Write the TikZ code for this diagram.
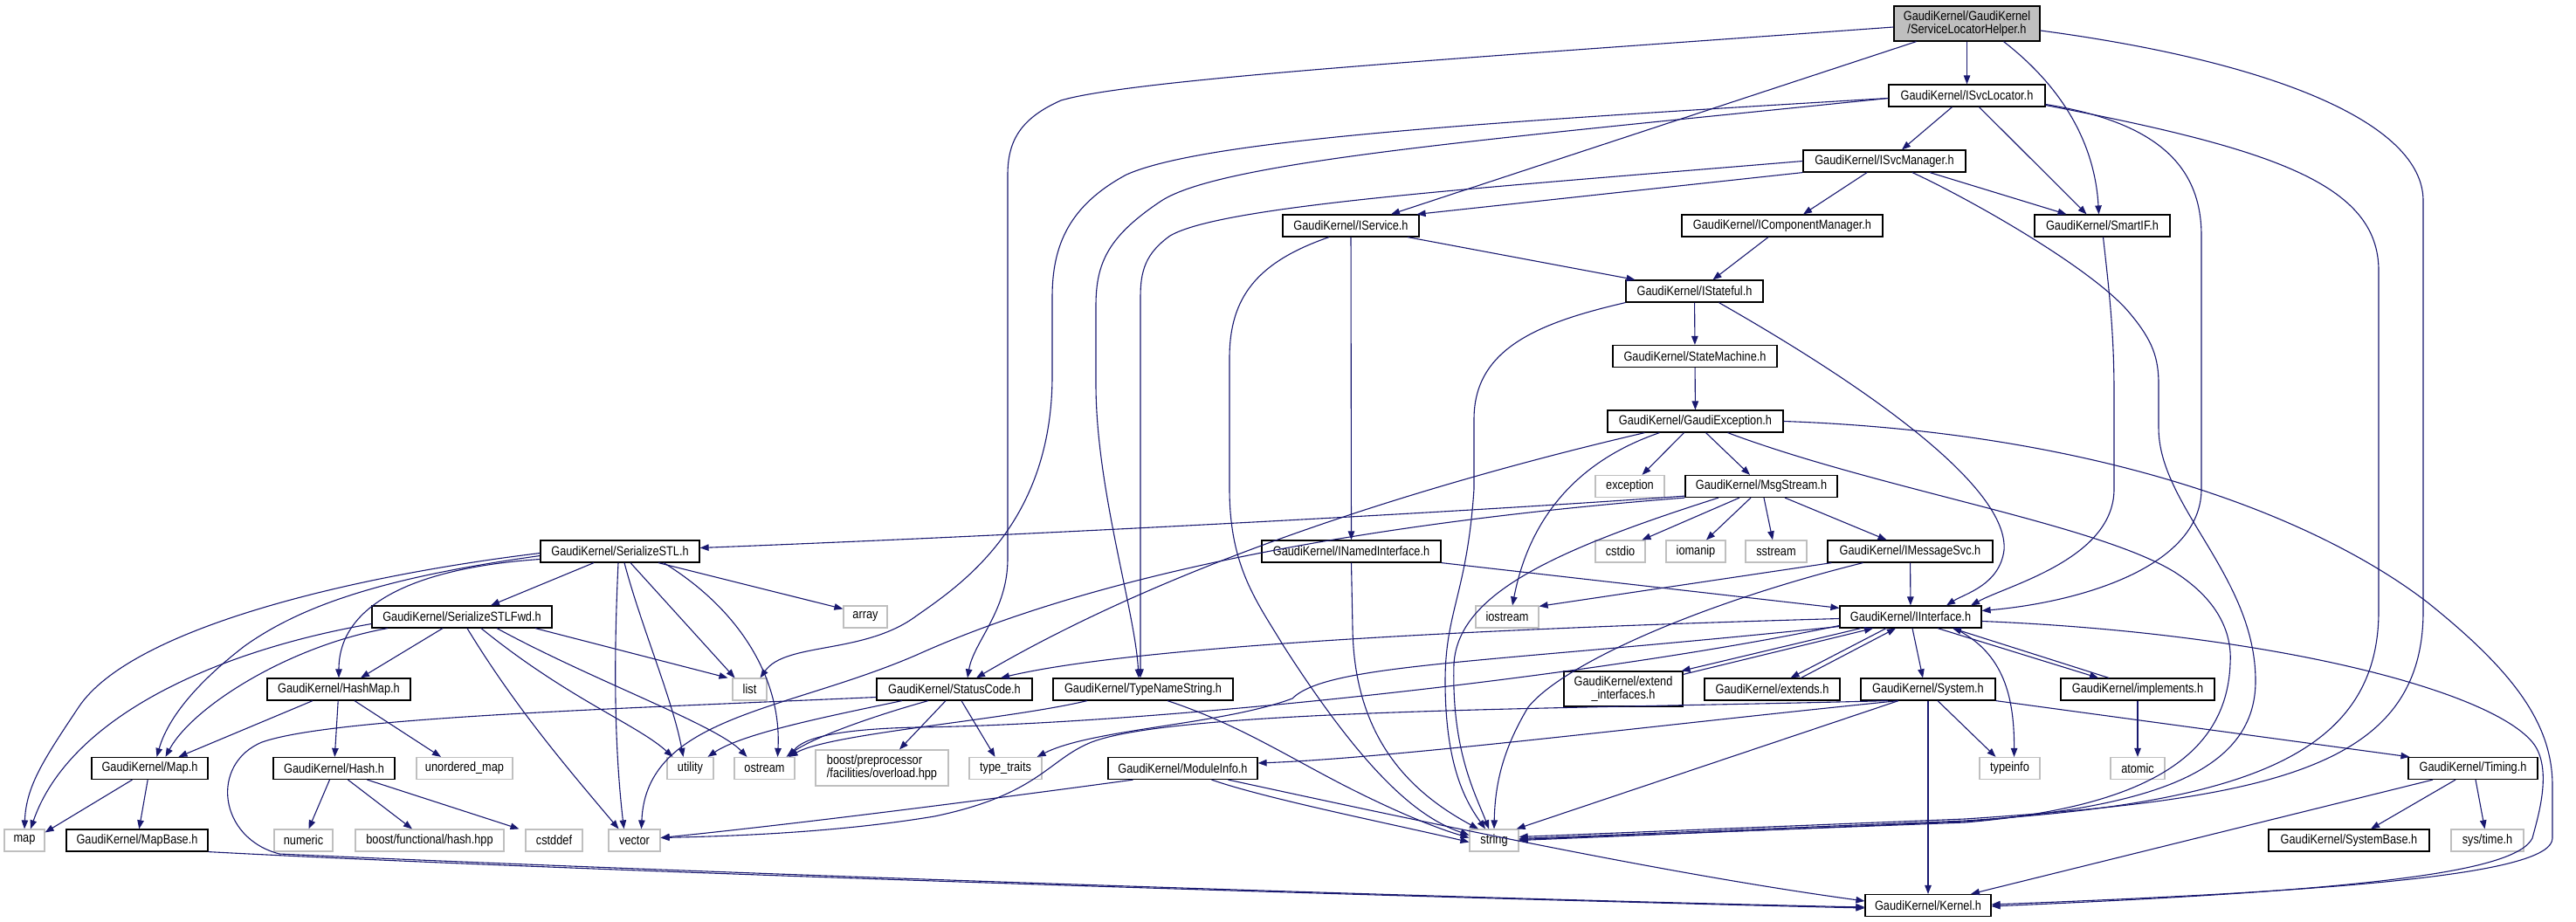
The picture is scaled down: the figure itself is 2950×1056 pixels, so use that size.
\documentclass[tikz,border=0pt]{standalone}
\usepackage{fontspec}
\setmainfont{Liberation Sans}[FakeStretch=0.85]
\usetikzlibrary{arrows.meta}
\definecolor{edgecol}{HTML}{191970}
\definecolor{sysgray}{HTML}{BFBFBF}
\definecolor{rootgray}{HTML}{BFBFBF}
\newcommand\gkfont{\fontsize{15pt}{15pt}\selectfont}
\begin{document}
\begin{tikzpicture}[x=1pt,y=-1pt,
  gk/.style={draw=black, line width=1.2pt, minimum height=25pt, inner sep=0pt, font=\gkfont},
  sy/.style={draw=sysgray, line width=1.2pt, minimum height=25pt, inner sep=0pt, font=\gkfont},
  edg/.style={draw=edgecol, line width=1.1pt, -{Triangle[length=10pt,width=7.5pt]}}]
\useasboundingbox (0,0) rectangle (2950,1056);
% ---------- nodes ----------
\node[gk, fill=rootgray, minimum width=167pt, minimum height=40pt, align=center] (root) at (2252.5,27) {GaudiKernel/GaudiKernel\\/ServiceLocatorHelper.h};
\node[gk, minimum width=179pt] (isvcloc) at (2252.5,109.5) {GaudiKernel/ISvcLocator.h};
\node[gk, minimum width=186pt] (isvcman) at (2158,184.5) {GaudiKernel/ISvcManager.h};
\node[gk, minimum width=155pt] (smartif) at (2407.5,258.5) {GaudiKernel/SmartIF.h};
\node[gk, minimum width=156pt] (iservice) at (1547,258.5) {GaudiKernel/IService.h};
\node[gk, minimum width=230pt] (icompman) at (2041,258.5) {GaudiKernel/IComponentManager.h};
\node[gk, minimum width=157pt] (istateful) at (1940.5,333.5) {GaudiKernel/IStateful.h};
\node[gk, minimum width=188pt] (statemachine) at (1941,408) {GaudiKernel/StateMachine.h};
\node[gk, minimum width=201pt] (gaudiexc) at (1941.5,482.5) {GaudiKernel/GaudiException.h};
\node[sy, minimum width=79pt] (exception) at (1866.5,557) {exception};
\node[gk, minimum width=174pt] (msgstream) at (2017,557) {GaudiKernel/MsgStream.h};
\node[gk, minimum width=182pt] (serializestl) at (710,631.5) {GaudiKernel/SerializeSTL.h};
\node[gk, minimum width=205pt] (inamed) at (1547.5,631.5) {GaudiKernel/INamedInterface.h};
\node[sy, minimum width=57pt] (cstdio) at (1855.5,631.5) {cstdio};
\node[sy, minimum width=68pt] (iomanip) at (1942,631.5) {iomanip};
\node[sy, minimum width=70pt] (sstream) at (2034,631.5) {sstream};
\node[gk, minimum width=189pt] (imessagesvc) at (2187.5,631.5) {GaudiKernel/IMessageSvc.h};
\node[gk, minimum width=206pt] (serializestlfwd) at (529,706.5) {GaudiKernel/SerializeSTLFwd.h};
\node[sy, minimum width=50pt] (array) at (991,706.5) {array};
\node[sy, minimum width=72pt] (iostream) at (1726,706.5) {iostream};
\node[gk, minimum width=162pt] (iinterface) at (2188,706.5) {GaudiKernel/IInterface.h};
\node[gk, minimum width=164pt] (hashmap) at (388,789.5) {GaudiKernel/HashMap.h};
\node[sy, minimum width=39pt] (list) at (858.5,789.5) {list};
\node[gk, minimum width=178pt] (statuscode) at (1093,789.5) {GaudiKernel/StatusCode.h};
\node[gk, minimum width=206pt] (typenamestring) at (1309,789.5) {GaudiKernel/TypeNameString.h};
\node[gk, minimum width=136pt, minimum height=40pt, align=center] (extendif) at (1859,789) {GaudiKernel/extend\\\_interfaces.h};
\node[gk, minimum width=155pt] (extends) at (2029.5,789.5) {GaudiKernel/extends.h};
\node[gk, minimum width=154pt] (system) at (2208,789.5) {GaudiKernel/System.h};
\node[gk, minimum width=176pt] (implements) at (2448,789.5) {GaudiKernel/implements.h};
\node[gk, minimum width=133pt] (maph) at (171.5,880) {GaudiKernel/Map.h};
\node[gk, minimum width=139pt] (hash) at (382.5,880) {GaudiKernel/Hash.h};
\node[sy, minimum width=110pt] (unorderedmap) at (532,880) {unordered\_map};
\node[sy, minimum width=53pt] (utility) at (790.5,880) {utility};
\node[sy, minimum width=69pt] (ostream) at (875.5,880) {ostream};
\node[sy, minimum width=152pt, minimum height=41pt, align=left] (boostpp) at (1010,879.5) {boost/preprocessor\\/facilities/overload.hpp};
\node[sy, minimum width=83pt] (typetraits) at (1151.5,880) {type\_traits};
\node[gk, minimum width=171pt] (moduleinfo) at (1354.5,880) {GaudiKernel/ModuleInfo.h};
\node[sy, minimum width=69pt] (typeinfo) at (2301.5,880) {typeinfo};
\node[sy, minimum width=62pt] (atomic) at (2448,880) {atomic};
\node[gk, minimum width=148pt] (timing) at (2832,880) {GaudiKernel/Timing.h};
\node[sy, minimum width=46pt] (map) at (28,962.5) {map};
\node[gk, minimum width=162pt] (mapbase) at (157,962.5) {GaudiKernel/MapBase.h};
\node[sy, minimum width=67pt] (numeric) at (347.5,962.5) {numeric};
\node[sy, minimum width=170pt] (boostfh) at (492,962.5) {boost/functional/hash.hpp};
\node[sy, minimum width=65pt] (cstddef) at (634.5,962.5) {cstddef};
\node[sy, minimum width=59pt] (vector) at (726.5,962.5) {vector};
\node[sy, minimum width=56pt] (string) at (1711,962.5) {string};
\node[gk, minimum width=184pt] (systembase) at (2690,962.5) {GaudiKernel/SystemBase.h};
\node[sy, minimum width=83pt] (systime) at (2848.5,962.5) {sys/time.h};
\node[gk, minimum width=144pt] (kernel) at (2208,1037) {GaudiKernel/Kernel.h};
% ---------- edges: root ----------
\draw[edg] (root) -- (isvcloc);
\draw[edg] ([xshift=42pt]root.south) .. controls (2375,110) and (2400,180) .. ([xshift=-4pt]smartif.north);
\draw[edg] ([xshift=-58pt]root.south) -- ([xshift=46pt]iservice.north);
\draw[edg] ([yshift=-4pt]root.west) .. controls (1700,65) and (1300,90) .. (1215,115) .. controls (1170,135) and (1154,160) .. (1154,200) -- (1154,640) .. controls (1154,700) and (1115,735) .. ([xshift=15pt]statuscode.north);
\draw[edg] ([yshift=-8pt]root.east) .. controls (2600,70) and (2775,140) .. (2775,230) -- (2775,700) .. controls (2775,880) and (2600,915) .. (2250,938) -- ([yshift=4pt]string.east);
% ---------- ISvcLocator ----------
\draw[edg] ([xshift=-17pt]isvcloc.south) -- ([xshift=20pt]isvcman.north);
\draw[edg] ([xshift=14pt]isvcloc.south) -- ([xshift=-18pt]smartif.north);
\draw[edg] ([yshift=-10pt]isvcloc.east) .. controls (2470,140) and (2521,190) .. (2521,270) -- (2521,560) .. controls (2521,650) and (2380,690) .. ([yshift=7pt]iinterface.east);
\draw[edg] ([yshift=-11pt]isvcloc.east) .. controls (2600,170) and (2724,210) .. (2724,310) -- (2724,700) .. controls (2724,870) and (2560,920) .. (2250,940) -- ([yshift=2pt]string.east);
\draw[edg] ([yshift=-3pt]isvcloc.west) .. controls (1700,140) and (1380,160) .. (1290,200) .. controls (1225,235) and (1205,280) .. (1205,340) -- (1205,430) .. controls (1205,600) and (1100,670) .. (1050,705) .. controls (990,750) and (900,735) .. ([xshift=12pt]list.north);
\draw[edg] ([yshift=-3pt]isvcloc.west) .. controls (1700,160) and (1400,185) .. (1330,230) .. controls (1270,270) and (1255,300) .. (1255,350) -- (1255,440) .. controls (1255,560) and (1300,700) .. ([xshift=-5pt]typenamestring.north);
% ---------- ISvcManager ----------
\draw[edg] (isvcman.south west) -- ([xshift=-3pt]iservice.north east);
\draw[edg] ([xshift=-20pt]isvcman.south) -- ([xshift=24pt]icompman.north);
\draw[edg] ([xshift=52pt]isvcman.south) -- ([xshift=-41pt]smartif.north);
\draw[edg] ([xshift=32pt]isvcman.south) .. controls (2260,230) and (2400,310) .. (2440,360) .. controls (2465,390) and (2472,410) .. (2472,440) -- (2472,490) .. controls (2472,580) and (2583,660) .. (2583,780) .. controls (2583,890) and (2450,925) .. (2250,941) -- (string.east);
\draw[edg] (isvcman.west) .. controls (1700,215) and (1400,235) .. (1340,270) .. controls (1312,290) and (1306,310) .. (1306,340) -- ([xshift=-3pt]typenamestring.north);
% ---------- SmartIF / IComponentManager ----------
\draw[edg] ([xshift=1pt]smartif.south) .. controls (2415,330) and (2421,380) .. (2421,450) -- (2421,560) .. controls (2421,640) and (2300,670) .. ([xshift=69pt]iinterface.north);
\draw[edg] ([xshift=-16pt]icompman.south) -- ([xshift=21pt]istateful.north);
% ---------- IService ----------
\draw[edg] ([xshift=65pt]iservice.south) -- ([xshift=-68pt]istateful.north);
\draw[edg] (iservice) -- (inamed);
\draw[edg] ([xshift=-25pt]iservice.south) .. controls (1440,300) and (1408,340) .. (1408,410) -- (1408,560) .. controls (1408,650) and (1440,690) .. (1470,740) .. controls (1560,880) and (1620,935) .. ([yshift=6pt]string.west);
% ---------- INamedInterface ----------
\draw[edg] (inamed.south east) -- ([yshift=-3pt]iinterface.north west);
\draw[edg] (inamed.south) -- (1549,720) .. controls (1551,850) and (1620,910) .. ([xshift=-18pt]string.north);
% ---------- IStateful ----------
\draw[edg] (istateful) -- (statemachine);
\draw[edg] (istateful.south west) .. controls (1760,370) and (1688,400) .. (1688,480) -- (1688,560) .. controls (1680,680) and (1655,700) .. (1655,780) .. controls (1655,880) and (1680,920) .. ([xshift=-10pt]string.north);
\draw[edg] ([xshift=28pt]istateful.south) .. controls (2150,450) and (2300,560) .. (2295,630) .. controls (2290,670) and (2250,680) .. ([xshift=41pt]iinterface.north);
\draw[edg] (statemachine) -- (gaudiexc);
% ---------- GaudiException ----------
\draw[edg] ([xshift=-13pt]gaudiexc.south) -- ([xshift=14pt]exception.north);
\draw[edg] ([xshift=12pt]gaudiexc.south) -- ([xshift=-13pt]msgstream.north);
\draw[edg] ([xshift=-58pt]gaudiexc.south) .. controls (1650,550) and (1350,640) .. ([xshift=25pt]statuscode.north);
\draw[edg] ([xshift=-41pt]gaudiexc.south) .. controls (1800,530) and (1750,600) .. ([xshift=6pt]iostream.north);
\draw[edg] ([xshift=37pt]gaudiexc.south) .. controls (2150,560) and (2400,600) .. (2490,655) .. controls (2545,690) and (2556,730) .. (2554,760) .. controls (2550,870) and (2450,925) .. (2250,942) -- ([yshift=1pt]string.east);
\draw[edg] (gaudiexc.east) .. controls (2400,495) and (2650,590) .. (2780,690) .. controls (2880,770) and (2923,830) .. (2923,900) -- (2923,960) .. controls (2923,1000) and (2700,1020) .. ([yshift=1pt]kernel.east);
% ---------- MsgStream ----------
\draw[edg] ([yshift=2pt]msgstream.south west) .. controls (1700,585) and (1200,612) .. ([yshift=4pt]serializestl.east);
\draw[edg] (msgstream.south west) .. controls (1550,600) and (1250,660) .. (1050,750) .. controls (900,815) and (740,820) .. ([xshift=8pt]vector.north);
\draw[edg] ([xshift=-49pt]msgstream.south) .. controls (1780,630) and (1670,680) .. (1665,760) .. controls (1662,860) and (1690,910) .. ([xshift=-6pt]string.north);
\draw[edg] ([xshift=-25pt]msgstream.south) -- ([xshift=25pt]cstdio.north);
\draw[edg] ([xshift=-12pt]msgstream.south) -- ([xshift=12pt]iomanip.north);
\draw[edg] ([xshift=3pt]msgstream.south) -- ([xshift=-4pt]sstream.north);
\draw[edg] ([xshift=27pt]msgstream.south) -- ([xshift=-27pt]imessagesvc.north);
% ---------- IMessageSvc ----------
\draw[edg] (imessagesvc) -- (iinterface);
\draw[edg] ([xshift=5pt]imessagesvc.south west) -- ([yshift=-1pt]iostream.north east);
\draw[edg] ([xshift=-54pt]imessagesvc.south) .. controls (1950,690) and (1790,760) .. (1750,810) .. controls (1720,860) and (1712,900) .. (string.north);
% ---------- IInterface ----------
\draw[edg] ([yshift=-2pt]iinterface.west) .. controls (1700,720) and (1300,740) .. ([xshift=53pt]statuscode.north);
\draw[edg] ([yshift=-10pt]iinterface.west) .. controls (1800,780) and (1300,830) .. (1050,833) .. controls (960,835) and (920,845) .. ([xshift=28pt]ostream.north);
\draw[edg] ([yshift=-11pt]iinterface.west) .. controls (1700,760) and (1520,760) .. (1480,800) .. controls (1400,830) and (1250,835) .. ([xshift=-6pt]typetraits.north east);
\draw[edg] ([xshift=-57pt]iinterface.south) -- ([xshift=-2pt]extendif.north east);
\draw[edg] ([yshift=-4pt]extendif.north east) -- ([xshift=-43pt]iinterface.south);
\draw[edg] ([xshift=-28pt]iinterface.south) -- ([xshift=21pt]extends.north);
\draw[edg] ([xshift=33pt]extends.north) -- ([xshift=-17pt]iinterface.south);
\draw[edg] ([xshift=2pt]iinterface.south) -- ([xshift=-6pt]system.north);
\draw[edg] ([xshift=31pt]iinterface.south) -- ([xshift=-45pt]implements.north);
\draw[edg] ([xshift=-33pt]implements.north) -- ([xshift=48pt]iinterface.south);
\draw[edg] ([xshift=50pt]iinterface.south) .. controls (2290,745) and (2307,790) .. ([xshift=5pt]typeinfo.north);
\draw[edg] ([yshift=-5pt]iinterface.east) .. controls (2600,725) and (2850,790) .. (2900,850) .. controls (2925,880) and (2905,940) .. (2900,960) .. controls (2880,1000) and (2700,1020) .. ([yshift=-1pt]kernel.east);
\draw[edg] (implements) -- (atomic);
% ---------- System ----------
\draw[edg] (system) -- (kernel);
\draw[edg] ([xshift=-34pt]system.south) -- ([xshift=-3pt]string.north east);
\draw[edg] ([xshift=-34pt]system.south) .. controls (1900,830) and (1600,868) .. ([yshift=6pt]moduleinfo.east);
\draw[edg] ([xshift=-46pt]system.south) .. controls (1800,812) and (1350,812) .. (1250,850) .. controls (1200,870) and (1190,910) .. (1070,935) .. controls (950,955) and (820,958) .. ([yshift=3pt]vector.east);
\draw[edg] ([xshift=11pt]system.south) -- ([xshift=-16pt]typeinfo.north);
\draw[edg] (system.south east) -- ([xshift=2pt]timing.north west);
% ---------- Timing ----------
\draw[edg] ([xshift=-46pt]timing.south) -- ([xshift=49pt]kernel.north);
\draw[edg] ([xshift=-20pt]timing.south) -- ([xshift=25pt]systembase.north);
\draw[edg] ([xshift=3pt]timing.south) -- ([xshift=-3pt]systime.north);
% ---------- ModuleInfo ----------
\draw[edg] ([xshift=-57pt]moduleinfo.south) .. controls (1100,920) and (900,945) .. ([yshift=3pt]vector.east);
\draw[edg] ([xshift=33pt]moduleinfo.south) .. controls (1450,915) and (1600,945) .. ([yshift=-2pt]string.west);
\draw[edg] ([xshift=52pt]moduleinfo.south) .. controls (1600,935) and (1900,1000) .. ([yshift=5pt]kernel.west);
% ---------- StatusCode ----------
\draw[edg] ([xshift=-60pt]statuscode.south) .. controls (950,820) and (850,840) .. ([xshift=20pt]utility.north);
\draw[edg] ([xshift=-30pt]statuscode.south) .. controls (1000,820) and (930,845) .. ([xshift=25pt]ostream.north);
\draw[edg] ([xshift=-10pt]statuscode.south) -- ([xshift=20pt]boostpp.north);
\draw[edg] ([xshift=8pt]statuscode.south) -- ([xshift=-12pt]typetraits.north);
\draw[edg] ([yshift=-9pt]statuscode.west) .. controls (700,812) and (380,822) .. (300,850) .. controls (240,875) and (250,960) .. (320,978) .. controls (800,1000) and (1700,1030) .. ([yshift=-2pt]kernel.west);
% ---------- TypeNameString ----------
\draw[edg] ([xshift=-64pt]typenamestring.south) .. controls (1150,825) and (950,840) .. ([xshift=28pt]ostream.north);
\draw[edg] ([xshift=28pt]typenamestring.south) .. controls (1420,830) and (1480,870) .. (1550,905) .. controls (1610,935) and (1650,950) .. ([yshift=3pt]string.west);
% ---------- SerializeSTL ----------
\draw[edg] ([xshift=-30pt]serializestl.south) -- ([xshift=33pt]serializestlfwd.north);
\draw[edg] ([xshift=44pt]serializestl.south) -- ([yshift=-4pt]array.north west);
\draw[edg] ([xshift=12pt]serializestl.south) -- ([xshift=-17pt]list.north);
\draw[edg] ([xshift=-2pt]serializestl.south) .. controls (703,750) and (703,850) .. ([xshift=-12pt]vector.north);
\draw[edg] ([xshift=5pt]serializestl.south) .. controls (735,720) and (770,800) .. ([xshift=-8pt]utility.north);
\draw[edg] ([xshift=50pt]serializestl.south) .. controls (850,700) and (895,780) .. ([xshift=15pt]ostream.north);
\draw[edg] ([yshift=-2pt]serializestl.west) .. controls (400,660) and (150,720) .. (90,810) .. controls (50,870) and (30,900) .. (map.north);
\draw[edg] ([yshift=-5pt]serializestl.west) .. controls (450,660) and (350,690) .. (280,740) .. controls (215,790) and (190,830) .. ([xshift=8pt]maph.north);
\draw[edg] ([yshift=-9pt]serializestl.west) .. controls (480,650) and (388,690) .. (hashmap.north);
% ---------- SerializeSTLFwd ----------
\draw[edg] ([xshift=-22pt]serializestlfwd.south) -- ([xshift=25pt]hashmap.north);
\draw[edg] ([xshift=-85pt]serializestlfwd.south) .. controls (330,740) and (220,810) .. ([xshift=18pt]maph.north);
\draw[edg] ([yshift=-8pt]serializestlfwd.west) .. controls (250,745) and (80,820) .. ([xshift=7pt]map.north);
\draw[edg] ([xshift=6pt]serializestlfwd.south) .. controls (590,810) and (650,880) .. ([xshift=-18pt]vector.north);
\draw[edg] ([xshift=84pt]serializestlfwd.south) -- ([xshift=-25pt]list.north);
\draw[edg] ([xshift=40pt]serializestlfwd.south) .. controls (680,780) and (820,830) .. ([xshift=-20pt]ostream.north);
\draw[edg] ([xshift=22pt]serializestlfwd.south) .. controls (650,800) and (730,830) .. ([xshift=-20pt]utility.north);
% ---------- HashMap / Map / Hash ----------
\draw[edg] ([xshift=-30pt]hashmap.south) -- ([xshift=33pt]maph.north);
\draw[edg] (hashmap) -- (hash);
\draw[edg] ([xshift=18pt]hashmap.south) -- ([xshift=-27pt]unorderedmap.north);
\draw[edg] ([xshift=-20pt]maph.south) -- ([yshift=-4pt]map.north east);
\draw[edg] (maph) -- (mapbase);
\draw[edg] ([xshift=-5pt]hash.south) -- ([xshift=6pt]numeric.north);
\draw[edg] ([xshift=16pt]hash.south) -- ([xshift=-20pt]boostfh.north);
\draw[edg] ([xshift=38pt]hash.south) -- ([xshift=-40pt]cstddef.north);
\draw[edg] (mapbase.south east) .. controls (700,1000) and (1700,1030) .. ([yshift=-3pt]kernel.west);
\end{tikzpicture}
\end{document}
